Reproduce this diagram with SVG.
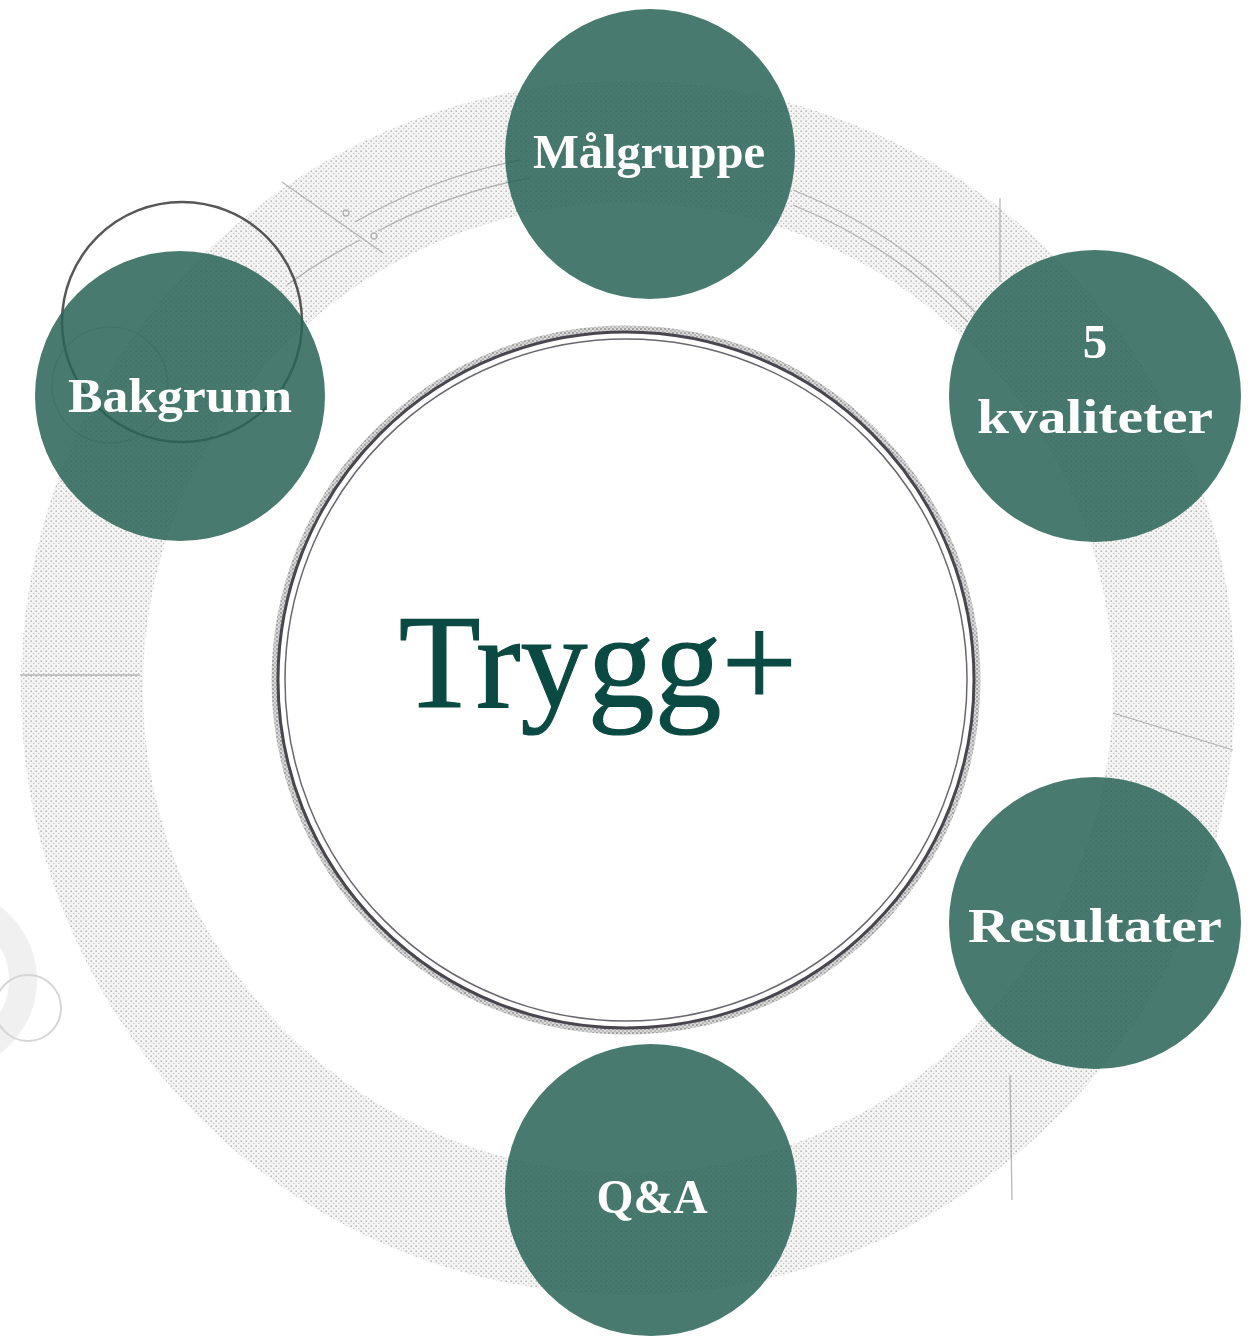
<svg xmlns="http://www.w3.org/2000/svg" width="1256" height="1337" viewBox="0 0 1256 1337">
  <defs>
    <pattern id="stipple" width="5" height="5" patternUnits="userSpaceOnUse">
      <rect width="5" height="5" fill="#f5f5f5"/>
      <circle cx="1.2" cy="1.2" r="0.85" fill="#b8b8b8"/>
      <circle cx="3.7" cy="3.6" r="0.75" fill="#c2c2c2"/>
    </pattern>
    <pattern id="stippleDark" width="4" height="4" patternUnits="userSpaceOnUse">
      <rect width="4" height="4" fill="#d8d8d8"/>
      <circle cx="1" cy="1" r="0.9" fill="#8a8a8a"/>
      <circle cx="3" cy="3" r="0.8" fill="#999"/>
    </pattern>
    <style>
      .node { fill: #2b6459; fill-opacity: 0.86; }
      .label { font-family: "Liberation Serif", "Times New Roman", serif; font-weight: bold; fill: #ffffff; text-anchor: middle; font-size: 49px; }
      .deco { fill: none; stroke: #9a9a9a; stroke-width: 1.3; opacity: 0.7; }
      .faint { fill: none; stroke: #d6d6d6; }
    </style>
  </defs>

  <rect width="1256" height="1337" fill="#ffffff"/>

  <!-- background decoration -->
  <g id="background">
    <!-- big stippled ring -->
    <circle cx="628" cy="688" r="546" fill="none" stroke="url(#stipple)" stroke-width="122"/>
    <!-- technical lines within ring -->
    <path class="deco" d="M 282 182 L 383 253"/>
    <circle class="deco" cx="346" cy="213" r="3"/>
    <circle class="deco" cx="374" cy="236" r="3"/>
    <path class="deco" d="M 355 222 A 539 539 0 0 1 520 160"/>
    <path class="deco" d="M 378 231 A 520 520 0 0 1 530 178"/>
    <path class="deco" d="M 287 285 A 525 525 0 0 1 360 240"/>
    <path class="deco" d="M 793 190 A 530 530 0 0 1 975 312"/>
    <path class="deco" d="M 793 205 A 515 515 0 0 1 968 322"/>
    <path class="deco" d="M 1000 198 L 1000 282" opacity="0.5"/>
    <path class="deco" d="M 20 675 L 140 675"/>
    <path class="deco" d="M 1113 713 L 1233 750" opacity="0.5"/>
    <path class="deco" d="M 1010 1075 L 1012 1200" opacity="0.35"/>
    <!-- dark circle near Bakgrunn -->
    <circle cx="182" cy="322" r="120" fill="none" stroke="#3a3a3a" stroke-width="2.5" opacity="0.85"/>
    <circle cx="110" cy="385" r="58" fill="none" stroke="#8a8a8a" stroke-width="1.2" opacity="0.5"/>
    <!-- faint rings lower left -->
    <circle cx="-55" cy="980" r="78" fill="none" stroke="#f0f0f0" stroke-width="28"/>
    <circle cx="28" cy="1008" r="33" class="faint" stroke-width="2"/>
  </g>

  <!-- central circle -->
  <g id="center">
    <circle cx="626" cy="680" r="350" fill="none" stroke="url(#stippleDark)" stroke-width="9"/>
    <circle cx="626" cy="680" r="348" fill="#ffffff" stroke="#4a4650" stroke-width="3"/>
    <circle cx="626" cy="680" r="341" fill="none" stroke="#6a6670" stroke-width="1.5"/>
    <text x="598" y="707" font-family="'Liberation Serif', 'Times New Roman', serif" font-size="134" fill="#0b4a42" stroke="#0b4a42" stroke-width="1.2" text-anchor="middle">Trygg+</text>
  </g>

  <g id="connectors"></g>

  <g id="node-malgruppe">
    <circle class="node" cx="650" cy="154" r="145"/>
    <text class="label" x="649" y="168" textLength="232" lengthAdjust="spacingAndGlyphs">Målgruppe</text>
  </g>
  <g id="node-bakgrunn">
    <circle class="node" cx="180" cy="396" r="145"/>
    <text class="label" x="180" y="412" textLength="224" lengthAdjust="spacingAndGlyphs">Bakgrunn</text>
  </g>
  <g id="node-kvaliteter">
    <circle class="node" cx="1095" cy="396" r="146"/>
    <text class="label" x="1095" y="358">5</text>
    <text class="label" x="1095" y="433" textLength="236" lengthAdjust="spacingAndGlyphs">kvaliteter</text>
  </g>
  <g id="node-resultater">
    <circle class="node" cx="1095" cy="923" r="146"/>
    <text class="label" x="1095" y="942" textLength="254" lengthAdjust="spacingAndGlyphs">Resultater</text>
  </g>
  <g id="node-qa">
    <circle class="node" cx="651" cy="1190" r="146"/>
    <text class="label" x="652" y="1213" textLength="111" lengthAdjust="spacingAndGlyphs">Q&amp;A</text>
  </g>
</svg>
